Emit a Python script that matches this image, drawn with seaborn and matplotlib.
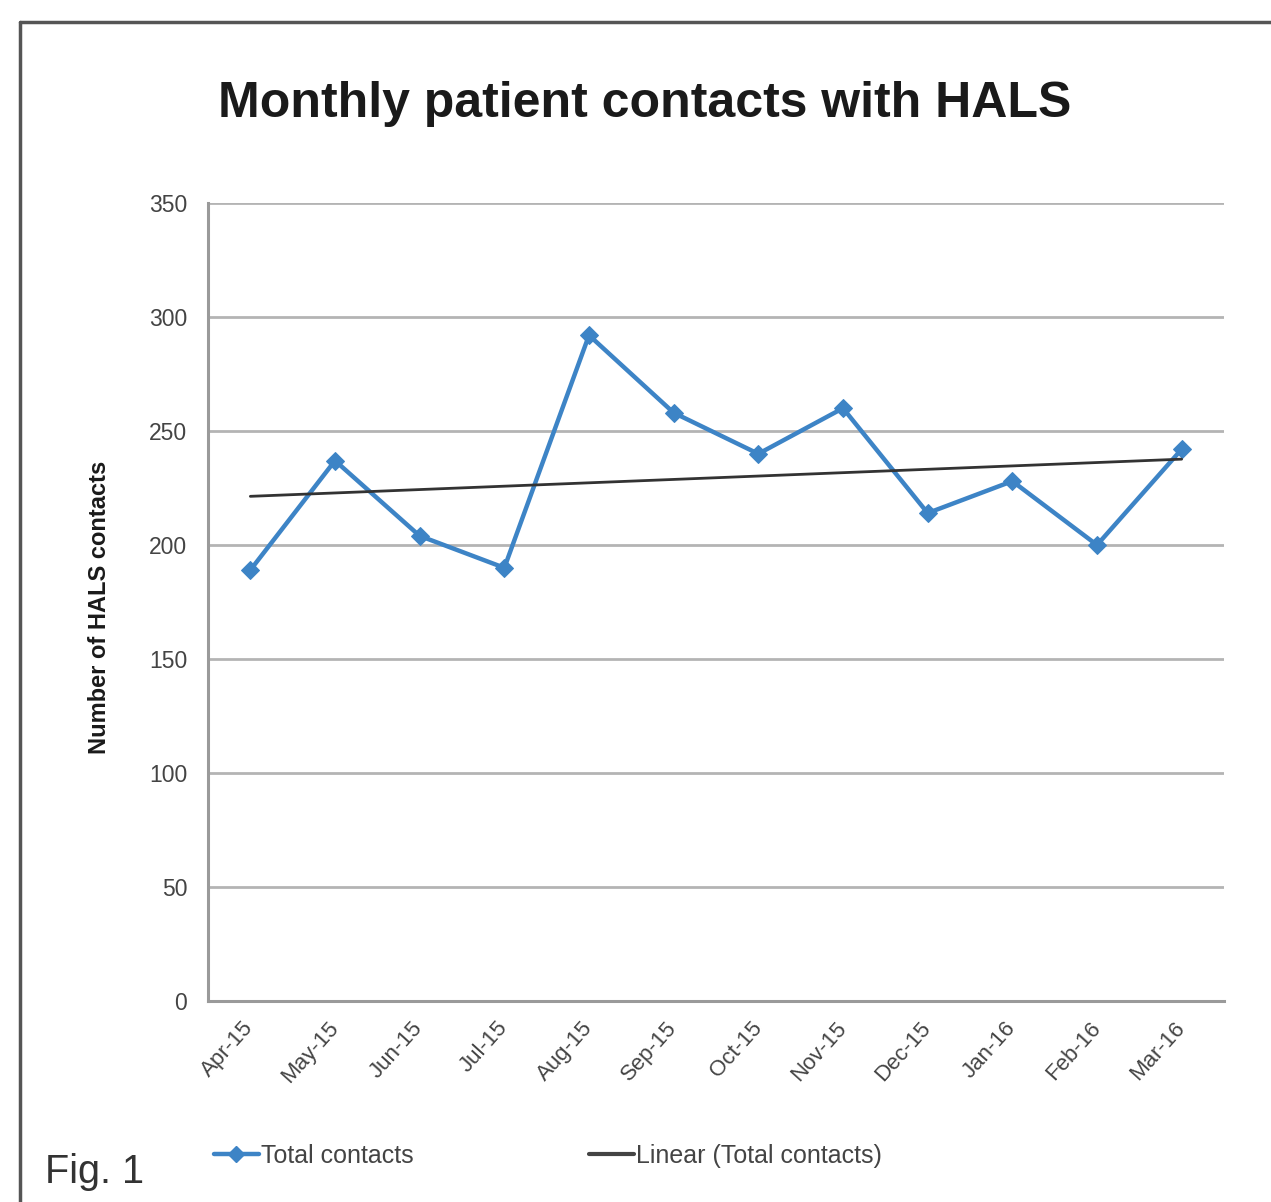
import numpy as np
import pandas as pd
import matplotlib
matplotlib.use("Agg")
import matplotlib.pyplot as plt
from matplotlib.lines import Line2D
from matplotlib.ticker import FixedLocator, MultipleLocator
import seaborn as sns

# ---- data ----
months = ["Apr-15", "May-15", "Jun-15", "Jul-15", "Aug-15", "Sep-15",
          "Oct-15", "Nov-15", "Dec-15", "Jan-16", "Feb-16", "Mar-16"]
contacts = [189, 237, 204, 190, 292, 258, 240, 260, 214, 228, 200, 242]
title = "Monthly patient contacts with HALS"
ylabel = "Number of HALS contacts"
series_name = "Total contacts"
trend_name = "Linear (Total contacts)"

sns.set_style("white")
plt.rcParams["font.family"] = ["Liberation Sans", "DejaVu Sans"]

df = pd.DataFrame({"month": months, "contacts": contacts})
idx = np.arange(len(months))
coef = np.polyfit(idx, df["contacts"].values, 1)
df["trend"] = np.polyval(coef, idx)

fig = plt.figure(figsize=(12.71, 12.02), dpi=100)
ax = fig.add_axes([208 / 1271, 1 - 1001 / 1202, (1224 - 208) / 1271, (1001 - 203) / 1202])

blue = "#3d84c6"
sns.lineplot(data=df, x="month", y="trend", ax=ax, color="#333333", lw=2.0,
             label=trend_name, zorder=4, sort=False)
sns.lineplot(data=df, x="month", y="contacts", ax=ax, color=blue, lw=3.2,
             marker="D", markersize=9, markeredgecolor=blue, label=series_name,
             zorder=3, sort=False)

ax.set_xlim(-0.5, len(months) - 0.5)
ax.set_ylim(0, 350)
ax.yaxis.set_major_locator(MultipleLocator(50))
ax.grid(axis="y", color="#b4b4b4", lw=2.0)
ax.grid(axis="x", visible=False)
ax.set_axisbelow(True)

for s in ["top", "right"]:
    ax.spines[s].set_visible(False)
for s in ["left", "bottom"]:
    ax.spines[s].set_color("#9a9a9a")
    ax.spines[s].set_linewidth(2.2)

ax.set_xlabel("")
ax.set_ylabel("")
ax.set_xticks(idx)
ax.set_xticklabels(months, rotation=48, ha="right", va="center",
                   rotation_mode="anchor", fontsize=16, color="#444444")
ax.tick_params(axis="x", which="major", length=0, pad=17)
ax.xaxis.set_minor_locator(FixedLocator(np.arange(-0.5, len(months), 1.0)))
ax.tick_params(axis="x", which="minor", length=6, width=1.5, color="#9a9a9a", direction="out")
ax.tick_params(axis="y", length=5, width=1.5, color="#9a9a9a", labelsize=16.5,
               labelcolor="#444444", pad=10)

ax.get_legend().remove()

fig.text(645 / 1271, 1 - 104 / 1202, title, ha="center", va="center",
         fontsize=36, fontweight="bold", color="#1a1a1a")
fig.text(100 / 1271, 1 - 607 / 1202, ylabel, ha="center", va="center",
         rotation=90, fontsize=17, fontweight="bold", color="#1a1a1a")
fig.text(45 / 1271, 1 - 1172 / 1202, "Fig. 1", ha="left", va="center",
         fontsize=28.5, color="#333333")

handles = [Line2D([], [], color=blue, lw=3.2, marker="D", markersize=8),
           Line2D([], [], color="#444444", lw=3.0)]
fig.legend(handles, [series_name, trend_name], loc="center",
           bbox_to_anchor=(548 / 1271, 1 - 1156 / 1202), ncol=2, frameon=False,
           fontsize=18, handlelength=1.8, handletextpad=0.1, columnspacing=7.0,
           labelcolor="#444444")

# outer frame
fig.add_artist(Line2D([20 / 1271, 20 / 1271], [0, 1 - 22 / 1202], color="#555555", lw=2.5))
fig.add_artist(Line2D([20 / 1271, 1], [1 - 22 / 1202, 1 - 22 / 1202], color="#555555", lw=2.5))

fig.savefig("out.png", dpi=100, facecolor="white")
